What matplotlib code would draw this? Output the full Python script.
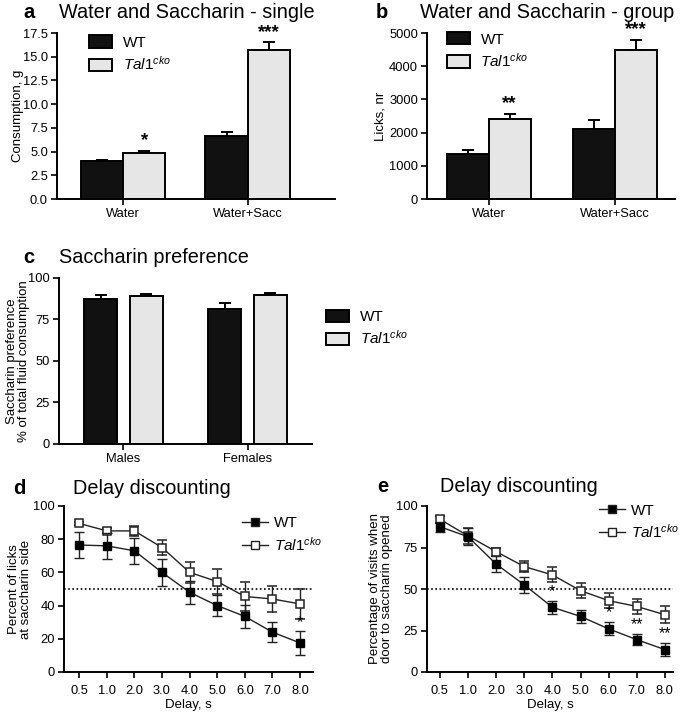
import numpy as np
import matplotlib
matplotlib.use("Agg")
import matplotlib.pyplot as plt
from matplotlib.patches import Patch
from matplotlib.lines import Line2D

plt.rcParams['font.family'] = ['Liberation Sans', 'DejaVu Sans']
plt.rcParams['mathtext.fontset'] = 'custom'
plt.rcParams['mathtext.it'] = 'Liberation Sans:italic'
plt.rcParams['mathtext.rm'] = 'Liberation Sans'

W, H = 685, 716

# --- data ---
groups_ab = ['Water', 'Water+Sacc']
single_wt = [4.0, 6.6]
single_wt_err = [0.1, 0.5]
single_ko = [4.8, 15.7]
single_ko_err = [0.3, 0.8]
single_stars = ['*', '***']

group_wt = [1360, 2100]
group_wt_err = [130, 280]
group_ko = [2400, 4500]
group_ko_err = [150, 290]
group_stars = ['**', '***']

groups_c = ['Males', 'Females']
pref_wt = [87.5, 81.5]
pref_wt_err = [2.0, 3.5]
pref_ko = [89.0, 90.0]
pref_ko_err = [1.2, 1.2]

delays = ['0.5', '1.0', '2.0', '3.0', '4.0', '5.0', '6.0', '7.0', '8.0']
licks_wt = [76.5, 76, 73, 60, 48, 40, 33.5, 24, 17.5]
licks_wt_err = [8, 8, 8, 8, 7, 6.5, 7, 6, 7]
licks_ko = [89.5, 85, 85, 75, 60, 54.5, 45.5, 44, 41]
licks_ko_err = [1, 1.5, 3, 4.5, 6.5, 7.5, 8.5, 8, 9]
licks_stars = ['', '', '', '', '', '', '', '', '*']

visits_wt = [87.5, 81.5, 65, 52.5, 39, 33.5, 26, 19.5, 13.5]
visits_wt_err = [3, 5, 5, 5, 4, 4, 4, 3.5, 4]
visits_ko = [92, 82, 72.5, 63.5, 58.5, 49, 43, 39.5, 34.5]
visits_ko_err = [2, 5, 2.5, 3.5, 4.5, 4.5, 4.5, 4.5, 5]
visits_stars = ['', '', '', '', '*', '', '*', '**', '**']

KO_LABEL = r'$\it{Tal1}^{\it{cko}}$'
DARK = '#111111'
LIGHT = '#e6e6e6'
TICK_FS = 9.3
LABEL_FS = 9.5
TITLE_FS = 14.3

fig = plt.figure(figsize=(W / 100, H / 100), dpi=100)


def add_ax(left, right, top, bottom):
    ax = fig.add_axes([left / W, 1 - bottom / H, (right - left) / W, (bottom - top) / H])
    for s in ['top', 'right']:
        ax.spines[s].set_visible(False)
    for s in ['left', 'bottom']:
        ax.spines[s].set_linewidth(1.4)
    ax.tick_params(width=1.2, length=4, labelsize=TICK_FS, direction='out', pad=2.5)
    return ax


def fig_text(x, y, s, **kw):
    fig.text(x / W, 1 - y / H, s, **kw)


def bar_panel(ax, wt, wt_err, ko, ko_err, width, off):
    x = np.arange(len(wt))
    ax.bar(x - off, wt, width, color=DARK, edgecolor='black', linewidth=1.4, zorder=2)
    ax.bar(x + off, ko, width, color=LIGHT, edgecolor='black', linewidth=1.4, zorder=2)
    ax.errorbar(x - off, wt, yerr=[np.zeros(len(wt)), wt_err], fmt='none',
                ecolor='black', elinewidth=1.4, capsize=4, capthick=1.4, zorder=1)
    ax.errorbar(x + off, ko, yerr=[np.zeros(len(ko)), ko_err], fmt='none',
                ecolor='black', elinewidth=1.4, capsize=4, capthick=1.4, zorder=1)
    ax.set_xticks(x)
    return x


def bar_legend(ax, loc, bbox):
    handles = [Patch(facecolor=DARK, edgecolor='black', linewidth=1.4),
               Patch(facecolor=LIGHT, edgecolor='black', linewidth=1.4)]
    ax.legend(handles, ['WT', KO_LABEL], loc=loc, bbox_to_anchor=bbox, frameon=False,
              fontsize=11, handlelength=1.5, handleheight=0.85, labelspacing=0.35,
              handletextpad=0.7, borderaxespad=0, borderpad=0)


# --- panel a ---
ax = add_ax(57, 335, 33, 199)
x = bar_panel(ax, single_wt, single_wt_err, single_ko, single_ko_err, 0.34, 0.17)
ax.set_xlim(-0.53, 1.70)
ax.set_ylim(0, 17.5)
ax.set_yticks(np.arange(0, 17.6, 2.5))
ax.yaxis.set_major_formatter(matplotlib.ticker.FormatStrFormatter('%.1f'))
ax.set_xticklabels(groups_ab)
ax.set_ylabel('Consumption, g', fontsize=LABEL_FS)
ax.yaxis.set_label_coords(-0.119, 0.5)
for i, s in enumerate(single_stars):
    ax.text(x[i] + 0.17, single_ko[i] + single_ko_err[i] + 0.2, s, ha='center',
            va='bottom', fontsize=13.5, fontweight='bold', clip_on=False)
bar_legend(ax, 'upper left', (0.115, 0.985))
fig_text(23, 12, 'a', fontsize=14.5, fontweight='bold', va='center')
fig_text(59, 12, 'Water and Saccharin - single', fontsize=TITLE_FS, va='center')

# --- panel b ---
ax = add_ax(427, 675, 33, 199)
x = bar_panel(ax, group_wt, group_wt_err, group_ko, group_ko_err, 0.333, 0.167)
ax.set_xlim(-0.49, 1.48)
ax.set_ylim(0, 5000)
ax.set_yticks(np.arange(0, 5001, 1000))
ax.set_xticklabels(groups_ab)
ax.set_ylabel('Licks, nr', fontsize=LABEL_FS)
ax.yaxis.set_label_coords(-0.165, 0.5)
for i, s in enumerate(group_stars):
    ax.text(x[i] + 0.167, group_ko[i] + group_ko_err[i] + 60, s, ha='center',
            va='bottom', fontsize=13.5, fontweight='bold', clip_on=False)
bar_legend(ax, 'upper left', (0.08, 1.005))
fig_text(376, 12, 'b', fontsize=14.5, fontweight='bold', va='center')
fig_text(420, 12, 'Water and Saccharin - group', fontsize=TITLE_FS, va='center')

# --- panel c ---
ax = add_ax(59, 312, 278, 444)
x = bar_panel(ax, pref_wt, pref_wt_err, pref_ko, pref_ko_err, 0.266, 0.185)
ax.set_xlim(-0.52, 1.52)
ax.set_ylim(0, 100)
ax.set_yticks([0, 25, 50, 75, 100])
ax.set_xticklabels(groups_c)
ax.set_ylabel('Saccharin preference\n% of total fluid consumption', fontsize=LABEL_FS,
              linespacing=1.0)
ax.yaxis.set_label_coords(-0.115, 0.5)
bar_legend(ax, 'upper left', (1.055, 0.81))
fig_text(23, 257, 'c', fontsize=14.5, fontweight='bold', va='center')
fig_text(59, 257, 'Saccharin preference', fontsize=TITLE_FS, va='center')


# --- panels d, e ---
def line_panel(ax, wt, wt_err, ko, ko_err, stars):
    x = np.arange(len(wt))
    ax.axhline(50, color='black', linestyle=(0, (1, 1.5)), linewidth=1.2, zorder=0)
    ax.errorbar(x, ko, yerr=ko_err, color='#222222', marker='s', markersize=5.5,
                markerfacecolor='white', markeredgecolor='#222222', markeredgewidth=1.1,
                linewidth=1.0, elinewidth=1.0, capsize=3.5, capthick=1.0, zorder=2)
    ax.errorbar(x, wt, yerr=wt_err, color='#222222', marker='s', markersize=5.5,
                markerfacecolor='black', markeredgecolor='black',
                linewidth=1.0, elinewidth=1.0, capsize=3.5, capthick=1.0, zorder=3)
    for i, s in enumerate(stars):
        if s:
            ax.text(x[i], wt[i] + wt_err[i] + 1.0, s, ha='center', va='bottom',
                    fontsize=11.5)
    ax.set_xticks(x)
    ax.set_xticklabels(delays)
    ax.set_ylim(0, 100)
    ax.tick_params(axis='x', pad=5)
    ax.set_xlabel('Delay, s', fontsize=LABEL_FS, labelpad=1.5)
    return x


def line_legend(ax, bbox):
    handles = [Line2D([], [], color='#222222', marker='s', markersize=5.5,
                      markerfacecolor='black', linewidth=1.0),
               Line2D([], [], color='#222222', marker='s', markersize=5.5,
                      markerfacecolor='white', linewidth=1.0)]
    ax.legend(handles, ['WT', KO_LABEL], loc='upper left', bbox_to_anchor=bbox,
              frameon=False, fontsize=11, handlelength=1.7, labelspacing=0.35,
              handletextpad=0.4, borderaxespad=0, borderpad=0)


ax = add_ax(64, 313, 506, 672)
line_panel(ax, licks_wt, licks_wt_err, licks_ko, licks_ko_err, licks_stars)
ax.set_xlim(-0.55, 8.47)
ax.set_yticks(np.arange(0, 101, 20))
ax.set_ylabel('Percent of licks\nat saccharin side', fontsize=LABEL_FS, linespacing=1.0)
ax.yaxis.set_label_coords(-0.129, 0.5)
line_legend(ax, (0.715, 0.94))
fig_text(13, 488, 'd', fontsize=14.5, fontweight='bold', va='center')
fig_text(73, 488, 'Delay discounting', fontsize=TITLE_FS, va='center')

ax = add_ax(427, 673, 506, 672)
line_panel(ax, visits_wt, visits_wt_err, visits_ko, visits_ko_err, visits_stars)
ax.set_xlim(-0.46, 8.29)
ax.set_yticks([0, 25, 50, 75, 100])
ax.set_ylabel('Percentage of visits when\ndoor to saccharin opened', fontsize=LABEL_FS,
              linespacing=1.0)
ax.yaxis.set_label_coords(-0.138, 0.5)
line_legend(ax, (0.70, 1.015))
fig_text(377, 486, 'e', fontsize=14.5, fontweight='bold', va='center')
fig_text(440, 486, 'Delay discounting', fontsize=TITLE_FS, va='center')

fig.savefig('out.png', dpi=100)
